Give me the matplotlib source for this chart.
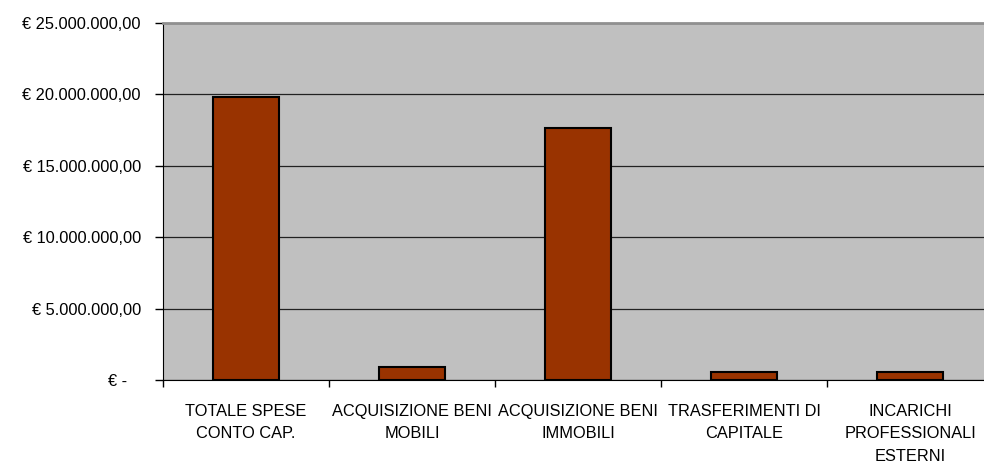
import matplotlib
matplotlib.use("Agg")
import matplotlib.pyplot as plt
import numpy as np

# Spese in conto capitale per voce
categorie = [
    "TOTALE SPESE\nCONTO CAP.",
    "ACQUISIZIONE BENI\nMOBILI",
    "ACQUISIZIONE BENI\nIMMOBILI",
    "TRASFERIMENTI DI\nCAPITALE",
    "INCARICHI\nPROFESSIONALI\nESTERNI",
]
importi = [19850000, 890000, 17650000, 580000, 580000]
y_ticks = [0, 5000000, 10000000, 15000000, 20000000, 25000000]
y_labels = ["€ -   ", "€ 5.000.000,00", "€ 10.000.000,00", "€ 15.000.000,00",
            "€ 20.000.000,00", "€ 25.000.000,00"]

plt.rcParams['font.family'] = ['Liberation Sans', 'DejaVu Sans']

fig = plt.figure(figsize=(9.84, 4.66), dpi=100)
# plot area runs slightly past the right edge of the image
ax = fig.add_axes([163 / 984, 1 - 380 / 466, 830 / 984, 357 / 466])
ax.set_facecolor("#C0C0C0")

x = np.arange(len(categorie))
ax.bar(x, importi, width=0.4, color="#993300", edgecolor="black",
       linewidth=1.5, zorder=3)

ax.set_xlim(-0.5, len(categorie) - 0.5)
ax.set_ylim(0, 25000000)

ax.set_yticks(y_ticks)
ax.set_yticklabels(y_labels, fontsize=11.8)
ax.yaxis.grid(True, color="#222222", linewidth=0.9, zorder=1)
ax.tick_params(axis="y", length=6, width=1, pad=10, color="black")

ax.set_xticks(x)
ax.set_xticklabels(categorie, fontsize=11.8, linespacing=1.65)
ax.tick_params(axis="x", which="major", length=0, pad=17)
ax.set_xticks(np.arange(len(categorie) + 1) - 0.5, minor=True)
ax.tick_params(axis="x", which="minor", length=5, width=1, color="black")

ax.spines["left"].set_color("black")
ax.spines["bottom"].set_color("black")
ax.spines["top"].set_color("#909090")
ax.spines["top"].set_linewidth(2)
ax.spines["right"].set_visible(False)
ax.set_axisbelow(True)

fig.savefig("out.png", dpi=100)
plt.close(fig)
